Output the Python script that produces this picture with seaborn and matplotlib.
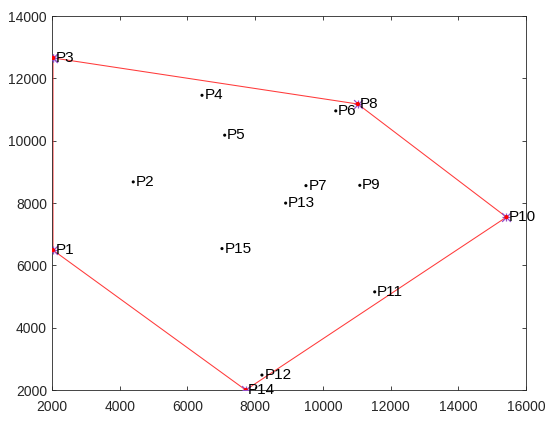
"""Convex hull of survey points P1..P15, MATLAB-like look."""

import matplotlib

matplotlib.use("Agg")
import matplotlib.pyplot as plt
import pandas as pd
import seaborn as sns


labels = ["P1", "P2", "P3", "P4", "P5", "P6", "P7", "P8",
          "P9", "P10", "P11", "P12", "P13", "P14", "P15"]
x_vals = [2030, 4400, 2030, 6430, 7100, 10380, 9500, 11030,
          11090, 15420, 11530, 8200, 8900, 7720, 7020]
y_vals = [6490, 8680, 12660, 11460, 10180, 10960, 8560, 11180,
          8570, 7550, 5150, 2480, 8000, 2000, 6540]

# hull vertices in drawing order (closed)
hull_order = ["P3", "P8", "P10", "P14", "P1", "P3"]


def main():
    pts = pd.DataFrame({"name": labels, "x": x_vals, "y": y_vals})
    hull = pts.set_index("name").loc[hull_order].reset_index()

    sns.set_theme(style="white")
    plt.rcParams["font.family"] = ["Liberation Sans", "DejaVu Sans"]

    fig = plt.figure(figsize=(5.5, 4.21), dpi=100)
    ax = fig.add_axes([0.0945, 0.0736, 0.862, 0.888])

    sns.lineplot(data=hull, x="x", y="y", sort=False, estimator=None,
                 color="#ff3a3a", linewidth=0.75, ax=ax)
    # asterisk markers: plus + cross
    for mk in ["+", "x"]:
        sns.scatterplot(data=hull, x="x", y="y", marker=mk, s=40,
                        color="#9450c8", linewidth=0.9, ax=ax, zorder=3)
    sns.scatterplot(data=pts, x="x", y="y", s=5, color="black",
                    edgecolor="none", ax=ax, zorder=4)
    sns.scatterplot(data=hull, x="x", y="y", s=9, color="#ff0000",
                    edgecolor="none", ax=ax, zorder=5)

    for name, px, py in zip(labels, x_vals, y_vals):
        ax.text(px + 70, py, name, fontsize=11, ha="left", va="center",
                color="black", zorder=6)

    ax.set_xlim(2000, 16000)
    ax.set_ylim(2000, 14000)
    ax.set_xticks(range(2000, 16001, 2000))
    ax.set_yticks(range(2000, 14001, 2000))
    ax.set_xlabel("")
    ax.set_ylabel("")
    ax.tick_params(direction="in", length=3, width=0.6, colors="#262626",
                   labelsize=10, top=True, right=True, bottom=True, left=True,
                   labeltop=False, labelright=False)
    ax.tick_params(axis="x", pad=7)
    for spine in ax.spines.values():
        spine.set_visible(True)
        spine.set_color("#262626")
        spine.set_linewidth(0.6)

    fig.savefig("out.png", dpi=100)
    plt.close(fig)


if __name__ == "__main__":
    main()
